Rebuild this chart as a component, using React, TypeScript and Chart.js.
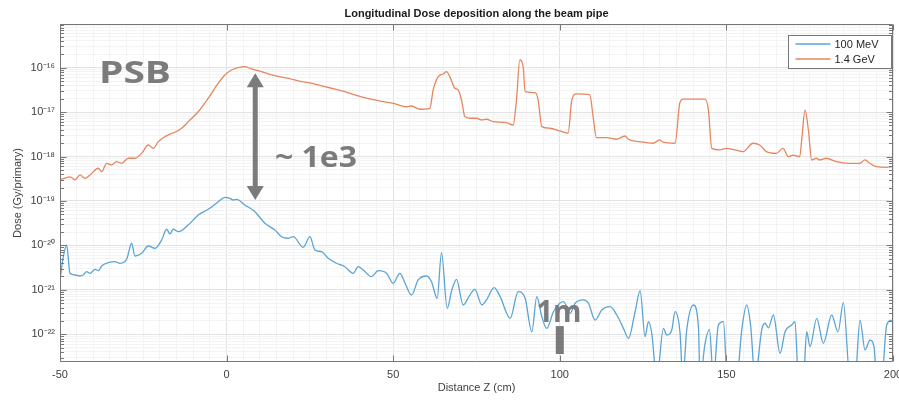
import React, { useEffect, useRef } from 'react';
import { Chart, registerables } from 'chart.js';

Chart.register(...registerables);

// ---------- data ----------
const chartTitle = 'Longitudinal Dose deposition along the beam pipe';
const xAxisTitle = 'Distance Z (cm)';
const yAxisTitle = 'Dose (Gy/primary)';
const seriesNames = ['100 MeV', '1.4 GeV'];
const xMajorTicks = [-50, 0, 50, 100, 150, 200];
const yDecades = [-23, -22, -21, -20, -19, -18, -17, -16];

// 1.4 GeV (orange)
const gevX = [
  -50, -47, -45.5, -44, -42.5, -41, -38.5, -37.5, -36, -34.5, -33, -31.5, -29.5, -27.5, -25.5, -23.5, -22, -20.5,
  -18.5, -17.5, -16.5, -15.5, -13.5, -11.5, -8.5, -5.5, -2.5, -0.5, 1.5, 3.5, 5.5, 7.5, 10.5, 14.5, 18.5, 22.5,
  25.5, 27.5, 31.5, 35.5, 38.5, 42, 47, 50, 54, 55.5, 58, 61, 62, 63.5, 65, 66, 67, 68.5, 69.5, 70.5, 71.5, 73,
  75, 76.5, 78, 80, 84, 86, 87, 88, 89, 89.6, 92.6, 93.5, 94.6, 97, 100, 102.5, 103.6, 105, 109, 110, 111, 114,
  117, 119.6, 120.6, 124, 128, 130, 131, 134.6, 136, 137, 143.6, 144.6, 145.6, 148, 150, 152.6, 155, 158, 160,
  162, 165, 167, 168.6, 170, 172, 172.6, 173.6, 174.6, 175.6, 177, 178, 180, 183, 187, 190, 191.6, 193, 195,
  198, 200,
];
const gevDose = [
  3.0e-19, 3.5e-19, 3.0e-19, 3.85e-19, 3.24e-19, 3.85e-19, 5.45e-19, 4.56e-19, 7.05e-19, 6.46e-19, 7.65e-19,
  7.05e-19, 9.14e-19, 9.14e-19, 1.18e-18, 1.82e-18, 1.53e-18, 2.16e-18, 2.8e-18, 3.05e-18, 3.34e-18, 3.52e-18,
  4.33e-18, 6.1e-18, 1.02e-17, 2.05e-17, 4.46e-17, 6.86e-17, 8.87e-17, 1.0e-16, 1.05e-16, 9.35e-17, 8.13e-17,
  6.6e-17, 5.77e-17, 4.84e-17, 4.46e-17, 4.08e-17, 3.44e-17, 2.88e-17, 2.43e-17, 2.05e-17, 1.72e-17, 1.58e-17,
  1.32e-17, 1.37e-17, 1.16e-17, 1.22e-17, 3.15e-17, 6.27e-17, 7.21e-17, 8.13e-17, 6.27e-17, 3.44e-17, 3.15e-17,
  1.87e-17, 7.9e-18, 7.26e-18, 7.26e-18, 6.65e-18, 6.9e-18, 6.1e-18, 5.78e-18, 5.13e-18, 1.87e-17, 1.49e-16,
  1.05e-16, 2.88e-17, 2.74e-17, 1.87e-17, 4.7e-18, 4.33e-18, 3.76e-18, 3.34e-18, 1.87e-17, 2.56e-17, 2.43e-17,
  7.9e-18, 2.65e-18, 2.67e-18, 2.45e-18, 2.9e-18, 2.45e-18, 2.16e-18, 1.99e-18, 2.36e-18, 2.1e-18, 1.99e-18,
  1.58e-17, 1.95e-17, 1.95e-17, 1.12e-17, 1.53e-18, 1.41e-18, 1.53e-18, 1.41e-18, 1.29e-18, 1.99e-18, 1.82e-18,
  1.29e-18, 1.18e-18, 1.53e-18, 9.93e-19, 1.08e-18, 9.93e-19, 2.36e-18, 1.12e-17, 3.96e-18, 8.38e-19, 9.14e-19,
  8.38e-19, 9.14e-19, 7.65e-19, 7.05e-19, 7.05e-19, 8.38e-19, 7.05e-19, 5.92e-19, 5.73e-19, 5.92e-19,
];

// 100 MeV (blue)
const mevX = [
  -50, -49, -48, -47, -45.5, -44, -43, -42, -41, -39.5, -38.5, -37.5, -35.5, -33.5, -32, -30, -28.5, -27.5, -25.5,
  -23.5, -21.5, -19.5, -18, -17, -16, -14.5, -11.5, -8.5, -5.5, -2.5, -0.5, 1, 2, 3, 5.5, 8.5, 11.5, 14.5, 16.5,
  18.5, 20, 23, 25, 26.5, 28.5, 30.5, 33, 35.5, 38, 39.5, 41, 43.5, 45.5, 48, 50, 52, 53.5, 55.5, 57.5, 60, 61.5,
  63.2, 64.5, 66.2, 67.6, 69, 71, 73, 74.5, 76.6, 78, 80.3, 82.1, 85.1, 87.5, 89.6, 91.6, 93.1, 94.6, 96.1, 98.1,
  101.1, 103.1, 104.6, 107.1, 108.6, 110.6, 112.6, 115.1, 117.1, 119.1, 120.6, 122.6, 124.1, 125.6, 126.6, 127.6,
  129.1, 131.1, 132.1, 133.6, 134.6, 136.1, 136.9, 138.1, 140.1, 141.6, 142.1, 143.6, 144.9, 146.1, 147.6, 149.1,
  150.3, 153.1, 154.6, 156.1, 157.3, 158.6, 160.6, 161.6, 162.6, 164.1, 166.1, 167.6, 169.6, 170.6, 171.6, 173.1,
  174.1, 175.1, 177.1, 179.1, 181.6, 183.5, 185.1, 187.1, 188.6, 190.1, 191.6, 193.1, 194.3, 195.1, 196.6, 198.1,
  199.6,
];
const mevDose = [
  1.67e-21, 5.57e-21, 1.02e-20, 2.36e-21, 2.16e-21, 2.05e-21, 2.16e-21, 2.56e-21, 2.36e-21, 2.9e-21, 2.7e-21,
  3.44e-21, 4.08e-21, 4.3e-21, 3.96e-21, 4.88e-21, 1.12e-20, 5.78e-21, 6.65e-21, 9.7e-21, 8.6e-21, 1.32e-20,
  2.31e-20, 1.81e-20, 2.31e-20, 2.04e-20, 2.88e-20, 4.84e-20, 6.5e-20, 9.64e-20, 1.21e-19, 1.15e-19, 1.05e-19,
  1.09e-19, 8.13e-20, 5.74e-20, 3.15e-20, 2.22e-20, 1.57e-20, 1.45e-20, 1.57e-20, 9.08e-21, 1.57e-20, 7.89e-21,
  7.23e-21, 5.13e-21, 3.96e-21, 3.32e-21, 2.36e-21, 3.32e-21, 2.8e-21, 1.98e-21, 2.7e-21, 2.36e-21, 1.4e-21,
  2.36e-21, 1.45e-21, 7.65e-22, 1.67e-21, 2.05e-21, 1.52e-21, 6.46e-22, 6.85e-21, 3.85e-22, 9.93e-22, 1.73e-21,
  4.56e-22, 7.65e-22, 1.03e-21, 4.56e-22, 5.92e-22, 1.12e-21, 7.02e-22, 2.29e-22, 9.08e-22, 6.46e-22, 1.14e-22,
  7.02e-22, 2.49e-22, 1.36e-22, 3.22e-22, 5.41e-22, 2.96e-22, 4.99e-22, 5.92e-22, 4.99e-22, 2.09e-22, 3.52e-22,
  4.18e-22, 2.72e-22, 1.36e-22, 8.13e-23, 3.22e-22, 9.57e-22, 8.83e-23, 1.92e-22, 1.05e-22, 1e-23, 1.36e-22,
  9.64e-23, 1.25e-22, 3.22e-22, 1.05e-22, 1e-23, 1.25e-22, 4.56e-22, 1.48e-22, 1e-23, 6.27e-23, 1.29e-22, 1e-23,
  1.62e-22, 1.92e-22, 1e-23, 1e-23, 1.25e-22, 4.56e-22, 1.48e-22, 1e-23, 1.25e-22, 1.77e-22, 1.4e-22, 2.72e-22,
  3.73e-23, 1.14e-22, 1.62e-22, 1.92e-22, 1e-23, 1e-23, 1.14e-22, 5.25e-23, 2.29e-22, 6.27e-23, 2.72e-22,
  1.14e-22, 5.14e-22, 1e-23, 1e-23, 2.09e-22, 4.43e-23, 7.43e-23, 5.25e-23, 1e-23, 1e-23, 1.62e-22, 2.09e-22,
];

// ---------- styling / annotation layout ----------
const BLUE = '#5ba4d4';
const ORANGE = '#e6865f';
const AXIS = '#777777';
const TEXT = '#404040';
const NOTE = '#7b7b7b';
const FONT = '"Liberation Sans", Arial, sans-serif';
const NOTE_FONT = '"Open Sans", sans-serif';

const notes = {
  psb: { text: 'PSB', x: -38.3, y: 4.46e-17, size: 31, width: 72 },
  ratio: { text: '~ 1e3', x: 14.5, y: 5.82e-19, size: 28, width: 82 },
  meter: { text: '1m', x: 93.0, y: 1.92e-22, size: 31, width: 45 },
  arrow: { x: 8.6, top: 7.5e-17, bottom: 1.05e-19, shaft: 5, headW: 17, headL: 14 },
  bar: { x: 100, top: 1.53e-22, bottom: 3.6e-23, width: 8 },
};

const SUP: Record<string, string> = {
  '0': '⁰', '1': '¹', '2': '²', '3': '³', '4': '⁴', '5': '⁵', '6': '⁶', '7': '⁷', '8': '⁸', '9': '⁹', '-': '⁻',
};
const sup = (n: number) => String(n).split('').map((c) => SUP[c] || c).join('');
const isPow10 = (v: number) => {
  const l = Math.log10(v);
  return Math.abs(l - Math.round(l)) < 1e-6;
};

const framePlugin = {
  id: 'matlabFrame',
  afterDatasetsDraw(chart: any) {
    const { ctx, chartArea: a, scales } = chart;
    const L = Math.round(a.left) + 0.5;
    const R = Math.round(a.right) - 0.5;
    const T = Math.round(a.top) + 0.5;
    const B = Math.round(a.bottom) - 0.5;
    ctx.save();
    ctx.strokeStyle = AXIS;
    ctx.lineWidth = 1;
    ctx.beginPath();
    ctx.rect(L, T, R - L, B - T);
    ctx.stroke();
    ctx.beginPath();
    for (const t of scales.y.ticks) {
      const py = Math.round(scales.y.getPixelForValue(t.value)) + 0.5;
      const len = isPow10(t.value) ? 6 : 3.5;
      ctx.moveTo(L, py); ctx.lineTo(L + len, py);
      ctx.moveTo(R, py); ctx.lineTo(R - len, py);
    }
    for (const v of xMajorTicks) {
      const px = Math.round(scales.x.getPixelForValue(v)) + 0.5;
      ctx.moveTo(px, B); ctx.lineTo(px, B - 6);
      ctx.moveTo(px, T); ctx.lineTo(px, T + 6);
    }
    ctx.stroke();
    ctx.restore();
  },
};

function stretchText(ctx: CanvasRenderingContext2D, text: string, x: number, y: number, size: number, width: number) {
  ctx.font = `700 ${size}px ${NOTE_FONT}`;
  const w = ctx.measureText(text).width;
  ctx.save();
  ctx.translate(x, y);
  ctx.scale(width / w, 1);
  ctx.textAlign = 'left';
  ctx.textBaseline = 'alphabetic';
  ctx.fillText(text, 0, 0);
  ctx.restore();
}

const notesPlugin = {
  id: 'notes',
  afterDatasetsDraw(chart: any) {
    const { ctx, scales } = chart;
    const xs = scales.x;
    const ys = scales.y;
    ctx.save();
    ctx.fillStyle = NOTE;
    for (const n of [notes.psb, notes.ratio, notes.meter]) {
      stretchText(ctx, n.text, xs.getPixelForValue(n.x), ys.getPixelForValue(n.y), n.size, n.width);
    }
    const ar = notes.arrow;
    const ax = xs.getPixelForValue(ar.x);
    const y1 = ys.getPixelForValue(ar.top);
    const y2 = ys.getPixelForValue(ar.bottom);
    ctx.fillRect(ax - ar.shaft / 2, y1 + ar.headL - 1, ar.shaft, y2 - y1 - 2 * ar.headL + 2);
    ctx.beginPath();
    ctx.moveTo(ax, y1); ctx.lineTo(ax - ar.headW / 2, y1 + ar.headL); ctx.lineTo(ax + ar.headW / 2, y1 + ar.headL);
    ctx.closePath(); ctx.fill();
    ctx.beginPath();
    ctx.moveTo(ax, y2); ctx.lineTo(ax - ar.headW / 2, y2 - ar.headL); ctx.lineTo(ax + ar.headW / 2, y2 - ar.headL);
    ctx.closePath(); ctx.fill();
    const b = notes.bar;
    const bx = xs.getPixelForValue(b.x);
    const bt = ys.getPixelForValue(b.top);
    const bb = ys.getPixelForValue(b.bottom);
    ctx.fillRect(bx - b.width / 2, bt, b.width, bb - bt);
    ctx.restore();
  },
};

const legendPlugin = {
  id: 'boxLegend',
  afterDraw(chart: any) {
    const { ctx, chartArea: a } = chart;
    const w = 103;
    const h = 33;
    const x0 = Math.round(a.right - 2 - w) + 0.5;
    const y0 = Math.round(a.top + 11) + 0.5;
    ctx.save();
    ctx.fillStyle = '#ffffff';
    ctx.fillRect(x0, y0, w, h);
    ctx.strokeStyle = AXIS;
    ctx.lineWidth = 1;
    ctx.strokeRect(x0, y0, w, h);
    ctx.font = `11px ${FONT}`;
    ctx.textBaseline = 'middle';
    ctx.textAlign = 'left';
    chart.data.datasets.forEach((ds: any, i: number) => {
      const yy = y0 + 8.5 + i * 15;
      ctx.strokeStyle = ds.borderColor;
      ctx.lineWidth = 1.3;
      ctx.beginPath();
      ctx.moveTo(x0 + 7, yy); ctx.lineTo(x0 + 42, yy);
      ctx.stroke();
      ctx.fillStyle = '#262626';
      ctx.fillText(ds.label, x0 + 46, yy + 0.5);
    });
    ctx.restore();
  },
};

export default function App() {
  const ref = useRef<HTMLCanvasElement>(null);
  useEffect(() => {
    document.body.style.margin = '0';
    const canvas = ref.current;
    if (!canvas) return;
    const yMin = 2.38e-23;
    const yMax = 9.6e-16;
    const chart = new Chart(canvas, {
      type: 'line',
      data: {
        datasets: [
          {
            label: seriesNames[0],
            data: mevX.map((x, i) => ({ x, y: mevDose[i] })),
            borderColor: BLUE,
            borderWidth: 1.3,
            pointRadius: 0,
            cubicInterpolationMode: 'monotone',
            fill: false,
          },
          {
            label: seriesNames[1],
            data: gevX.map((x, i) => ({ x, y: gevDose[i] })),
            borderColor: ORANGE,
            borderWidth: 1.3,
            pointRadius: 0,
            cubicInterpolationMode: 'monotone',
            fill: false,
          },
        ],
      },
      options: {
        animation: false,
        responsive: false,
        devicePixelRatio: 1,
        events: [],
        layout: { padding: { left: 0, right: 6, top: 0, bottom: 0 } },
        plugins: {
          legend: { display: false },
          tooltip: { enabled: false },
          title: {
            display: true,
            text: chartTitle,
            fullSize: false,
            color: '#1a1a1a',
            font: { family: FONT, size: 11, weight: 'bold' },
            padding: { top: 7.4, bottom: 3.4 },
          },
        },
        scales: {
          x: {
            type: 'linear',
            min: -50,
            max: 200,
            afterFit: (s: any) => {
              s.height = 38;
              s.paddingLeft = 0;
              s.paddingRight = 0;
            },
            ticks: {
              stepSize: 5,
              autoSkip: false,
              maxRotation: 0,
              minRotation: 0,
              padding: 6,
              color: TEXT,
              font: { family: FONT, size: 11 },
              callback: (v: any) => (xMajorTicks.includes(Number(v)) ? String(v) : ''),
            },
            grid: {
              drawTicks: false,
              color: (c: any) => (c.tick && xMajorTicks.includes(c.tick.value) ? '#e2e2e2' : '#f3f3f3'),
            },
            border: { display: false },
            title: {
              display: true,
              text: xAxisTitle,
              color: TEXT,
              font: { family: FONT, size: 11 },
              padding: { top: 0, bottom: 5.4 },
            },
          },
          y: {
            type: 'logarithmic',
            min: yMin,
            max: yMax,
            afterFit: (s: any) => {
              s.width = 60;
              s.paddingTop = 0;
              s.paddingBottom = 0;
            },
            afterBuildTicks: (s: any) => {
              const t: any[] = [];
              for (const e of yDecades) {
                for (let m = 1; m <= 9; m++) {
                  const v = Number(`${m}e${e}`);
                  if (v >= yMin && v <= yMax) t.push({ value: v, major: m === 1 });
                }
              }
              s.ticks = t;
            },
            ticks: {
              autoSkip: false,
              padding: 5,
              color: TEXT,
              font: { family: FONT, size: 11 },
              callback: (v: any) => (isPow10(Number(v)) ? '10' + sup(Math.round(Math.log10(Number(v)))) : ''),
            },
            grid: {
              drawTicks: false,
              color: (c: any) => (c.tick && isPow10(c.tick.value) ? '#e2e2e2' : '#f3f3f3'),
            },
            border: { display: false },
            title: {
              display: true,
              text: yAxisTitle,
              color: TEXT,
              font: { family: FONT, size: 11 },
              padding: { top: 11.4, bottom: 0 },
            },
          },
        },
      },
      plugins: [framePlugin, notesPlugin, legendPlugin],
    } as any);
    return () => chart.destroy();
  }, []);
  return (
    <div style={{ width: 899, height: 400, background: '#ffffff' }}>
      <canvas ref={ref} width={899} height={400} style={{ display: 'block' }} />
    </div>
  );
}
